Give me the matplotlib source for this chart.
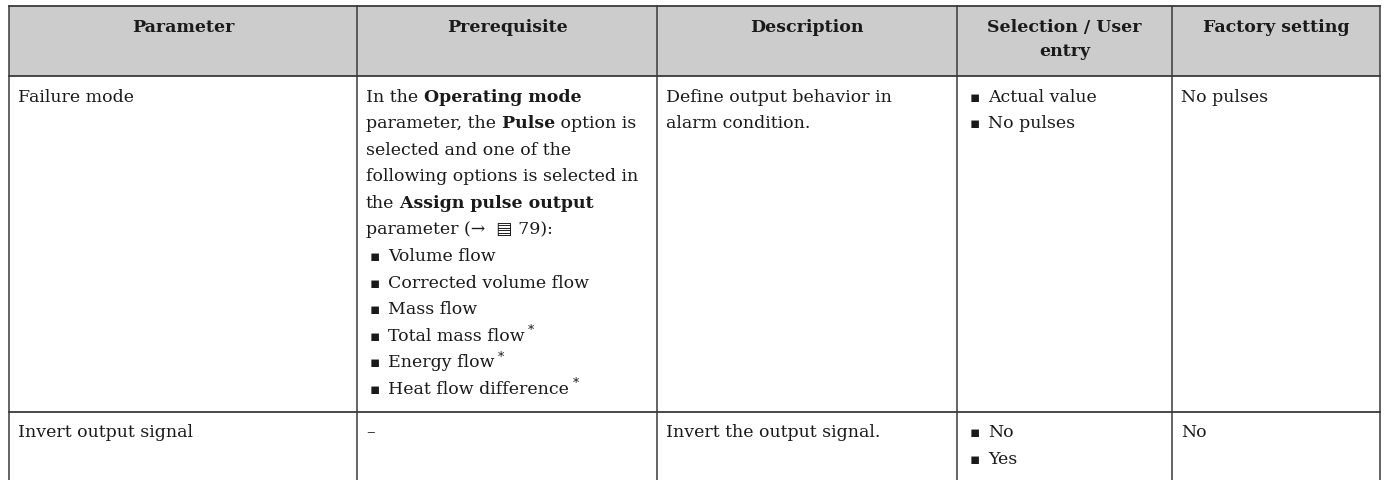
import matplotlib
matplotlib.use("Agg")
import matplotlib.pyplot as plt

# table content
headers = ["Parameter", "Prerequisite", "Description", "Selection / User\nentry", "Factory setting"]
param_names = ["Failure mode", "Invert output signal"]

# prerequisite text: each line is a list of (text, bold) runs
prereq_lines = [
    [("In the", False), (" Operating mode", True)],
    [("parameter, the", False), (" Pulse", True), (" option is", False)],
    [("selected and one of the", False)],
    [("following options is selected in", False)],
    [("the", False), (" Assign pulse output", True)],
    [("parameter (\u2192  \u25A4 79):", False)],
]
prereq_options = ["Volume flow", "Corrected volume flow", "Mass flow",
                  "Total mass flow", "Energy flow", "Heat flow difference"]
prereq_footnote = [False, False, False, True, True, True]
prereq_row2 = "\u2013"

descriptions = [["Define output behavior in", "alarm condition."],
                ["Invert the output signal."]]
selections = [["Actual value", "No pulses"], ["No", "Yes"]]
factory = ["No pulses", "No"]

# layout (pixels)
W, H = 1384, 481
col_x = [9, 357, 657, 957, 1172, 1380]
top, head_bot = 7, 77
row_tops = [77, 413]
line_h = 26.6
pad = 9
FONT = "DejaVu Serif"
FS = 12.5
LC = "#3a3a3a"
TC = "#1a1a1a"

fig = plt.figure(figsize=(W / 100, H / 100), dpi=100)
ax = fig.add_axes([0, 0, 1, 1])
ax.set_xlim(0, W)
ax.set_ylim(H, 0)
ax.axis("off")

# header background
ax.fill_between([col_x[0], col_x[-1]], top, head_bot, color="#cccccc", lw=0)

# grid lines
for y in [top, head_bot, row_tops[1]]:
    ax.plot([col_x[0], col_x[-1]], [y, y], color=LC, lw=1.3)
for x in col_x:
    ax.plot([x, x], [top, H], color=LC, lw=1.1)


def runs(x, y, parts, size=FS):
    prev = None
    for txt, bold in parts:
        w = "bold" if bold else "normal"
        if prev is None:
            prev = ax.text(x, y, txt, fontsize=size, fontweight=w, family=FONT,
                           color=TC, va="center", ha="left")
        else:
            prev = ax.annotate(txt, xy=(1, 0), xycoords=prev, xytext=(0, 0),
                               textcoords="offset points", fontsize=size,
                               fontweight=w, family=FONT, color=TC,
                               va="bottom", ha="left")
    return prev


def bullet(x, y, txt, star=False):
    ax.text(x + 1, y, "\u25AA", fontsize=11, family="DejaVu Sans", color=TC,
            va="center", ha="left")
    t = ax.text(x + 19, y, txt, fontsize=FS, family=FONT, color=TC,
                va="center", ha="left")
    if star:
        ax.annotate("*", xy=(1, 1), xycoords=t, xytext=(2.5, -2),
                    textcoords="offset points", fontsize=9, family=FONT,
                    color=TC, va="center", ha="left")


# headers
for i, h in enumerate(headers):
    cx = (col_x[i] + col_x[i + 1]) / 2
    for j, ln in enumerate(h.split("\n")):
        ax.text(cx, 28 + j * 24, ln, fontsize=FS, fontweight="bold", family=FONT,
                color=TC, ha="center", va="center")

# rows
for r in range(2):
    y0 = row_tops[r] + 20
    ax.text(col_x[0] + pad, y0, param_names[r], fontsize=FS, family=FONT,
            color=TC, va="center", ha="left")
    for k, ln in enumerate(descriptions[r]):
        ax.text(col_x[2] + pad, y0 + k * line_h, ln, fontsize=FS, family=FONT,
                color=TC, va="center", ha="left")
    for k, ln in enumerate(selections[r]):
        bullet(col_x[3] + pad + 3, y0 + k * line_h, ln)
    ax.text(col_x[4] + pad, y0, factory[r], fontsize=FS, family=FONT,
            color=TC, va="center", ha="left")

y0 = row_tops[0] + 20
for k, parts in enumerate(prereq_lines):
    runs(col_x[1] + pad, y0 + k * line_h, parts)
base = y0 + len(prereq_lines) * line_h
for k, opt in enumerate(prereq_options):
    bullet(col_x[1] + pad + 3, base + k * line_h, opt, prereq_footnote[k])
ax.text(col_x[1] + pad, row_tops[1] + 20, prereq_row2, fontsize=FS, family=FONT,
        color=TC, va="center", ha="left")

fig.savefig("out.png", dpi=100)
